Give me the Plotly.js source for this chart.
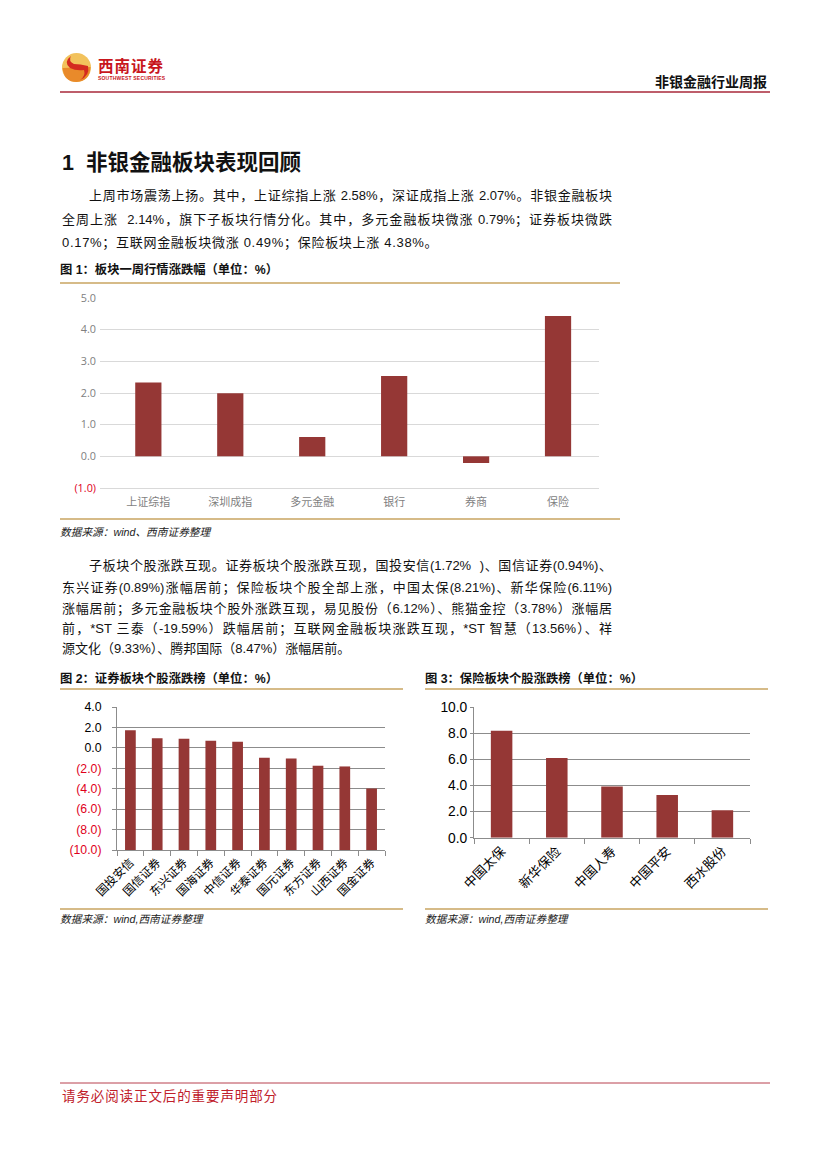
<!DOCTYPE html>
<html>
<head>
<meta charset="utf-8">
<script src="https://cdn.plot.ly/plotly-3.0.1.min.js"></script>
<style>
  html, body { margin:0; padding:0; background:#fff; }
  #page { position:relative; width:827px; height:1169px; overflow:hidden; background:#fff; }
  #plot { position:absolute; left:0; top:0; width:827px; height:1169px; }
  .t { position:absolute; white-space:nowrap; pointer-events:none; color:#111;
       font-family:"Liberation Sans","Noto Sans CJK SC",sans-serif; }
  .j { text-align:justify; text-align-last:justify; }
  .body { font-size:13px; line-height:14px; }
  .cap { font-size:12.3px; font-weight:bold; line-height:14px; }
  .src { font-size:10.7px; font-style:italic; line-height:12px; color:#222; }
</style>
</head>
<body>
<div id="page">
  <div id="plot"></div>

  <!-- header -->
  <div class="t" style="left:98px;top:57px;font-size:15.5px;font-weight:bold;color:#c8161d;letter-spacing:1px;font-family:'Noto Sans CJK SC';line-height:16px;">西南证券</div>
  <div class="t" style="left:98px;top:76px;font-size:5px;font-weight:bold;color:#c8161d;line-height:5px;letter-spacing:0.2px;">SOUTHWEST SECURITIES</div>
  <div class="t" style="left:655px;top:73px;font-size:14px;font-weight:bold;font-family:'Noto Sans CJK SC';line-height:16px;">非银金融行业周报</div>

  <!-- heading -->
  <div class="t" style="left:62px;top:151px;font-size:21.5px;font-weight:bold;line-height:24px;font-family:'Liberation Sans','Noto Sans CJK SC';">1&nbsp;&nbsp;非银金融板块表现回顾</div>

  <!-- paragraph 1 -->
  <div class="t body j" style="left:89px;top:189px;width:523px;">上周市场震荡上扬。其中，上证综指上涨 2.58%，深证成指上涨 2.07%。非银金融板块</div>
  <div class="t body j" style="left:62px;top:213px;width:550px;">全周上涨&nbsp;&nbsp;2.14%，旗下子板块行情分化。其中，多元金融板块微涨 0.79%；证券板块微跌</div>
  <div class="t body" style="left:62px;top:236px;letter-spacing:0.7px;">0.17%；互联网金融板块微涨 0.49%；保险板块上涨 4.38%。</div>

  <!-- caption 1 -->
  <div class="t cap" style="left:60px;top:263px;">图 1：板块一周行情涨跌幅（单位：%）</div>
  <div class="t src" style="left:60px;top:526px;">数据来源：wind、西南证券整理</div>

  <!-- paragraph 2 -->
  <div class="t body j" style="left:89px;top:559px;width:523px;">子板块个股涨跌互现。证券板块个股涨跌互现，国投安信(1.72%&nbsp;&nbsp;)、国信证券(0.94%)、</div>
  <div class="t body j" style="left:62px;top:581px;width:550px;">东兴证券(0.89%)涨幅居前；保险板块个股全部上涨，中国太保(8.21%)、新华保险(6.11%)</div>
  <div class="t body j" style="left:62px;top:602px;width:550px;">涨幅居前；多元金融板块个股外涨跌互现，易见股份（6.12%）、熊猫金控（3.78%）涨幅居</div>
  <div class="t body j" style="left:62px;top:622px;width:550px;">前，*ST 三泰（-19.59%）跌幅居前；互联网金融板块涨跌互现，*ST 智慧（13.56%）、祥</div>
  <div class="t body" style="left:62px;top:642px;">源文化（9.33%）、腾邦国际（8.47%）涨幅居前。</div>

  <!-- captions 2,3 -->
  <div class="t cap" style="left:60px;top:672px;">图 2：证券板块个股涨跌榜（单位：%）</div>
  <div class="t cap" style="left:425px;top:672px;">图 3：保险板块个股涨跌榜（单位：%）</div>
  <div class="t src" style="left:60px;top:913px;">数据来源：wind,西南证券整理</div>
  <div class="t src" style="left:425px;top:913px;">数据来源：wind,西南证券整理</div>

  <!-- footer -->
  <div class="t" style="left:62px;top:1087px;font-size:13.5px;color:#c0202a;letter-spacing:0.9px;line-height:16px;font-family:'Noto Sans CJK SC';">请务必阅读正文后的重要声明部分</div>
</div>

<script>
// ---------------- data ----------------
const sectorCats   = ['上证综指', '深圳成指', '多元金融', '银行', '券商', '保险'];
const sectorVals   = [2.33, 1.99, 0.61, 2.54, -0.21, 4.43];
const sectorTicks  = [-1, 0, 1, 2, 3, 4, 5];

const brokerCats   = ['国投安信', '国信证券', '东兴证券', '国海证券', '中信证券', '华泰证券', '国元证券', '东方证券', '山西证券', '国金证券'];
const brokerVals   = [1.72, 0.94, 0.89, 0.70, 0.60, -0.97, -1.03, -1.75, -1.82, -3.98];
const brokerTicks  = [-10, -8, -6, -4, -2, 0, 2, 4];

const insurerCats  = ['中国太保', '新华保险', '中国人寿', '中国平安', '西水股份'];
const insurerVals  = [8.21, 6.11, 3.92, 3.27, 2.10];
const insurerTicks = [0, 2, 4, 6, 8, 10];

// ---------------- helpers ----------------
const W = 827, H = 1169;
const PX = x => x / W;
const PY = y => 1 - y / H;
const RED_NEG = '#e0001b';
function fmt(v, negColor) {
  const s = Math.abs(v).toFixed(1);
  if (v < 0) return '<span style="color:' + negColor + '">(' + s + ')</span>';
  return s;
}
const BAR = '#953735';
const GOLD = '#c9a461';

// chart 2 bars rise from axis minimum (Excel style)
const brokerBase = brokerTicks[0];

const traces = [
  { type:'bar', x:sectorCats, y:sectorVals, xaxis:'x', yaxis:'y',
    marker:{color:BAR}, width:0.32, hoverinfo:'x+y' },
  { type:'bar', x:brokerCats, y:brokerVals.map(v => v - brokerBase), base:brokerBase,
    xaxis:'x2', yaxis:'y2', marker:{color:BAR}, width:0.4, hoverinfo:'x' },
  { type:'bar', x:insurerCats, y:insurerVals, xaxis:'x3', yaxis:'y3',
    marker:{color:BAR}, width:0.39, hoverinfo:'x+y' }
];

function line(x0, y0, x1, y1, color, w) {
  return { type:'line', xref:'paper', yref:'paper', x0:PX(x0), y0:PY(y0), x1:PX(x1), y1:PY(y1),
           line:{color:color, width:w} };
}
function pathPx(pts) {
  return pts.map(p => PX(p[0]).toFixed(5) + ',' + PY(p[1]).toFixed(5)).join(' ');
}

const shapes = [
  // header / footer rules
  line(60, 92, 770, 92, '#a8283a', 1.6),
  line(60, 1083, 770, 1083, '#b8404e', 1),
  // chart frames (gold rules)
  line(60, 283, 620, 283, GOLD, 1.3),
  line(60, 519, 620, 519, GOLD, 1.3),
  line(60, 689, 403, 689, GOLD, 1.3),
  line(60, 909, 403, 909, GOLD, 1.3),
  line(425, 689, 768, 689, GOLD, 1.3),
  line(425, 909, 768, 909, GOLD, 1.3),
  // logo
  { type:'circle', xref:'paper', yref:'paper', x0:PX(62), x1:PX(91), y0:PY(82), y1:PY(53),
    fillcolor:'#f2c25c', line:{width:0} },
  { type:'path', xref:'paper', yref:'paper', fillcolor:'#e98a2a', line:{width:0},
    path:'M ' + pathPx([[62.5,68]]) + ' Q ' + pathPx([[64,82],[76.5,82]]) + ' Q ' + pathPx([[90,81],[90.5,67]]) + ' Z' },
  { type:'path', xref:'paper', yref:'paper', fillcolor:'#d42a20', line:{width:0},
    path:'M ' + pathPx([[71,56]]) + ' Q ' + pathPx([[63,62],[70,68]]) + ' Q ' + pathPx([[76,71],[84,70]]) +
         ' Q ' + pathPx([[86,76],[80,80]]) + ' Q ' + pathPx([[90,76],[88,66]]) + ' Q ' + pathPx([[80,64],[74,64]]) +
         ' Q ' + pathPx([[68,61],[71,56]]) + ' Z' }
];

const tickFontC = {family:'Liberation Sans, Noto Sans CJK SC', size:12.3, color:'#000'};

const layout = {
  width:W, height:H, margin:{l:0, r:0, t:0, b:0},
  paper_bgcolor:'rgba(0,0,0,0)', plot_bgcolor:'rgba(0,0,0,0)',
  showlegend:false, shapes:shapes,
  // chart 1
  xaxis:{ domain:[PX(100), PX(599)], anchor:'y', type:'category', range:[-0.59, 5.5],
          showgrid:false, zeroline:false, showline:true, linecolor:'#d9d9d9', linewidth:1,
          ticks:'', ticklabelstandoff:4, fixedrange:true,
          tickfont:{family:'Noto Sans CJK SC', size:11, color:'#7f7f7f'} },
  yaxis:{ domain:[PY(488), PY(298)], anchor:'x', range:[-1, 5], tickvals:sectorTicks,
          ticktext:sectorTicks.map(v => fmt(v, RED_NEG)), gridcolor:'#d9d9d9', gridwidth:1,
          zeroline:false, showline:false, ticks:'', ticklabelstandoff:3, fixedrange:true,
          tickfont:{family:'Open Sans, Liberation Sans', size:10.8, color:'#808080'} },
  // chart 2
  xaxis2:{ domain:[PX(117), PX(385)], anchor:'y2', type:'category', showgrid:false, zeroline:false,
           showline:true, linecolor:'#8c8c8c', linewidth:1, ticks:'outside', tickson:'boundaries',
           ticklen:5, tickcolor:'#8c8c8c', tickangle:-45, fixedrange:true,
           tickfont:{family:'Noto Sans CJK SC', size:11.8, color:'#000'} },
  yaxis2:{ domain:[PY(850), PY(707)], anchor:'x2', range:[-10, 4], tickvals:brokerTicks,
           ticktext:brokerTicks.map(v => fmt(v, RED_NEG)), gridcolor:'#8c8c8c', gridwidth:1,
           zeroline:false, showline:true, linecolor:'#8c8c8c', ticks:'outside', ticklen:4,
           tickcolor:'#8c8c8c', ticklabelstandoff:8, fixedrange:true, tickfont:tickFontC },
  // chart 3
  xaxis3:{ domain:[PX(474), PX(750)], anchor:'y3', type:'category', showgrid:false, zeroline:false,
           showline:true, linecolor:'#8c8c8c', linewidth:1, ticks:'outside', tickson:'boundaries',
           ticklen:5, tickcolor:'#8c8c8c', tickangle:-45, fixedrange:true,
           tickfont:{family:'Noto Sans CJK SC', size:13, color:'#000'} },
  yaxis3:{ domain:[PY(837.7), PY(707.3)], anchor:'x3', range:[0, 10], tickvals:insurerTicks,
           ticktext:insurerTicks.map(v => fmt(v, RED_NEG)), gridcolor:'#8c8c8c', gridwidth:1,
           zeroline:false, showline:true, linecolor:'#8c8c8c', ticks:'outside', ticklen:3,
           tickcolor:'#8c8c8c', ticklabelstandoff:0, fixedrange:true,
           tickfont:{family:'Liberation Sans, Noto Sans CJK SC', size:13.8, color:'#000'} }
};

Plotly.newPlot('plot', traces, layout, {displayModeBar:false});
</script>
</body>
</html>
